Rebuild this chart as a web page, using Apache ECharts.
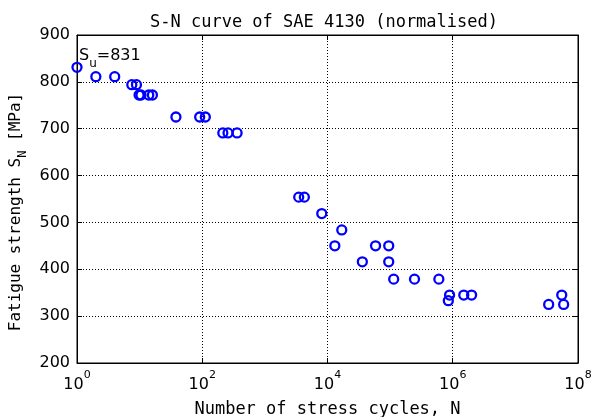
<!DOCTYPE html>
<html>
<head>
<meta charset="utf-8">
<script src="https://cdn.jsdelivr.net/npm/echarts@6/dist/echarts.min.js"></script>
<style>
  html, body { margin: 0; padding: 0; background: #fff; }
  #chart { width: 593px; height: 417px; }
</style>
</head>
<body>
<div id="chart"></div>
<script>
// Fatigue test results for normalised SAE 4130 steel
const cycles = [1, 2, 4, 7.5, 8.9, 9.8, 10.5, 14, 16, 38, 91, 112, 213, 258, 360,
  3470, 4270, 8100, 16900, 13100, 58500, 95000, 36000, 95000, 114000, 245000,
  600000, 890000, 850000, 1.5e6, 2e6, 3.4e7, 5.5e7, 5.9e7];
const stress = [831, 811, 811, 794, 794, 772, 772, 772, 772, 725, 725, 725, 691, 691, 691,
  554, 554, 519, 484, 450, 450, 450, 416, 416, 379, 379,
  379, 345, 333, 345, 345, 325, 345, 325];
const yTicks = [200, 300, 400, 500, 600, 700, 800, 900];
const xDecades = [0, 2, 4, 6, 8];
const ultimateLabelAt = [1, 856];

const points = cycles.map((n, i) => [n, stress[i]]);

const mono = '"DejaVu Sans Mono", monospace';
const sans = '"DejaVu Sans", sans-serif';

const chart = echarts.init(document.getElementById('chart'), null, { renderer: 'canvas' });

const gridLine = { show: true, lineStyle: { color: '#000', type: [1, 2], width: 1 } };
const decadeStep = xDecades[1] - xDecades[0];

function logAxis(extra) {
  return Object.assign({
    type: 'log',
    logBase: 10,
    min: Math.pow(10, xDecades[0]),
    max: Math.pow(10, xDecades[xDecades.length - 1]),
    interval: decadeStep,
    splitNumber: xDecades.length - 1,
    minorTick: { show: false }
  }, extra);
}

chart.setOption({
  animation: false,
  backgroundColor: '#fff',
  title: {
    text: 'S-N curve of SAE 4130 (normalised)',
    left: 319,
    top: 9,
    textAlign: 'center',
    textStyle: { fontFamily: mono, fontSize: 17, fontWeight: 'normal', color: '#000' }
  },
  grid: {
    left: 77, right: 15, top: 35, bottom: 54,
    containLabel: false,
    outerBoundsMode: 'none',
    show: true, borderColor: '#000', borderWidth: 1, backgroundColor: '#fff'
  },
  xAxis: [logAxis({
    position: 'bottom',
    name: 'Number of stress cycles, N',
    nameLocation: 'middle',
    nameGap: 38,
    nameTextStyle: { fontFamily: mono, fontSize: 17, color: '#000' },
    axisLine: { show: true, lineStyle: { color: '#000', width: 1 } },
    axisTick: { show: true, inside: true, length: 5, lineStyle: { color: '#000' } },
    splitLine: gridLine,
    axisLabel: {
      margin: 7,
      showMinLabel: true,
      showMaxLabel: true,
      formatter: v => '{b|10}{s|' + Math.round(Math.log10(v)) + '}',
      rich: {
        b: { fontFamily: sans, fontSize: 16, color: '#000', lineHeight: 30 },
        s: { fontFamily: sans, fontSize: 11, color: '#000', lineHeight: 12, verticalAlign: 'top' }
      }
    }
  }), logAxis({
    position: 'top',
    axisLine: { show: true, lineStyle: { color: '#000', width: 1 } },
    axisTick: { show: true, inside: true, length: 5, lineStyle: { color: '#000' } },
    axisLabel: { show: false },
    splitLine: { show: false }
  })],
  yAxis: [{
    type: 'value',
    min: yTicks[0],
    max: yTicks[yTicks.length - 1],
    interval: yTicks[1] - yTicks[0],
    position: 'left',
    name: '{b|Fatigue strength S}{s|N}{b| [MPa]}',
    nameLocation: 'middle',
    nameGap: 47,
    nameRotate: 90,
    nameTextStyle: {
      padding: [0, 26, 0, 0],
      rich: {
        b: { fontFamily: mono, fontSize: 16, color: '#000', lineHeight: 26 },
        s: { fontFamily: mono, fontSize: 12, color: '#000', lineHeight: 12, verticalAlign: 'bottom' }
      }
    },
    axisLine: { show: true, lineStyle: { color: '#000', width: 1 } },
    axisTick: { show: true, inside: true, length: 5, lineStyle: { color: '#000' } },
    splitLine: gridLine,
    axisLabel: { margin: 7, fontFamily: sans, fontSize: 16, color: '#000' }
  }, {
    type: 'value',
    min: yTicks[0],
    max: yTicks[yTicks.length - 1],
    interval: yTicks[1] - yTicks[0],
    position: 'right',
    axisLine: { show: true, lineStyle: { color: '#000', width: 1 } },
    axisTick: { show: true, inside: true, length: 5, lineStyle: { color: '#000' } },
    axisLabel: { show: false },
    splitLine: { show: false }
  }],
  series: [{
    name: 'Test data',
    type: 'scatter',
    xAxisIndex: 0,
    yAxisIndex: 0,
    data: points,
    symbol: 'circle',
    symbolSize: 9,
    itemStyle: { color: 'rgba(0,0,0,0)', borderColor: '#0000ff', borderWidth: 2.3, opacity: 1 },
    emphasis: { disabled: true },
    z: 5
  }, {
    name: 'Ultimate strength',
    type: 'scatter',
    xAxisIndex: 0,
    yAxisIndex: 0,
    data: [ultimateLabelAt],
    symbolSize: 0,
    silent: true,
    itemStyle: { opacity: 1 },
    label: {
      show: true,
      position: 'right',
      distance: 2,
      color: '#000',
      formatter: '{b|S}{s|u}{b|=' + stress[0] + '}',
      rich: {
        b: { fontFamily: sans, fontSize: 16, color: '#000', lineHeight: 28 },
        s: { fontFamily: sans, fontSize: 12, color: '#000', lineHeight: 12, verticalAlign: 'bottom' }
      }
    },
    z: 6
  }]
});
</script>
</body>
</html>
